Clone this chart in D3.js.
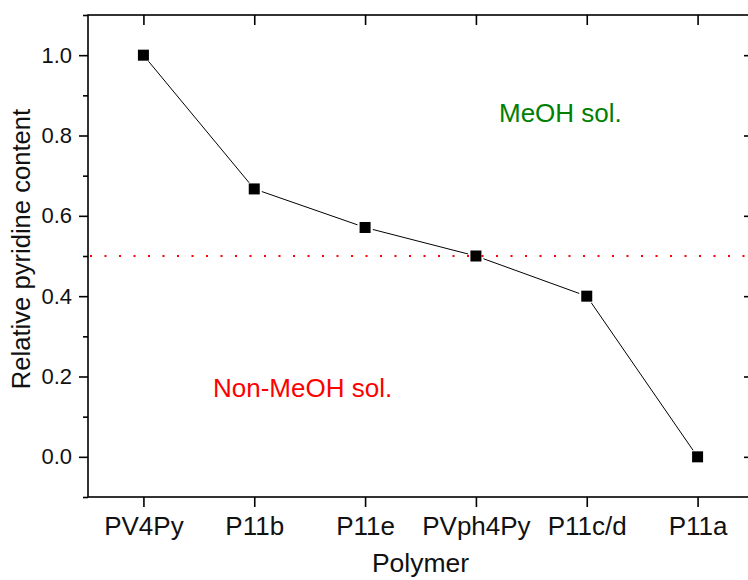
<!DOCTYPE html>
<html>
<head>
<meta charset="utf-8">
<script src="https://cdn.jsdelivr.net/npm/d3@7/dist/d3.min.js"></script>
<style>
  html, body { margin: 0; padding: 0; background: #fff; }
  svg { display: block; font-family: "Liberation Sans", Arial, sans-serif; }
</style>
</head>
<body>
<svg id="chart" width="748" height="580"></svg>
<script>
// Polymers along the x axis and their relative pyridine content
const polymers = ["PV4Py", "P11b", "P11e", "PVph4Py", "P11c/d", "P11a"];
const pyridineContent = [1.0, 0.667, 0.571, 0.5, 0.4, 0.0];
const yTickValues = [0.0, 0.2, 0.4, 0.6, 0.8, 1.0];
const yMinorValues = [-0.1, 0.1, 0.3, 0.5, 0.7, 0.9, 1.1];
const thresholdValue = [0.5];

const svg = d3.select("#chart");
const margin = { left: 88, top: 15, right: 753, bottom: 497 };

const x = d3.scalePoint().domain(polymers).range([margin.left, margin.right]).padding(0.5);
const y = d3.scaleLinear().domain([-0.1, 1.1]).range([margin.bottom, margin.top]);

const axisStroke = 1.6;

// Left axis: outward major + minor ticks
const gLeft = svg.append("g").attr("transform", `translate(${margin.left},0)`);
gLeft.call(d3.axisLeft(y).tickValues(yTickValues).tickFormat(d3.format(".1f")).tickSize(9).tickPadding(7));
gLeft.append("g").call(d3.axisLeft(y).tickValues(yMinorValues).tickFormat("").tickSize(5));

// Right axis: inward ticks
const gRight = svg.append("g").attr("transform", `translate(${margin.right},0)`);
gRight.call(d3.axisRight(y).tickValues(yTickValues).tickFormat("").tickSize(-9));
gRight.append("g").call(d3.axisRight(y).tickValues(yMinorValues).tickFormat("").tickSize(-5));

// Bottom axis: outward ticks with category labels
const gBottom = svg.append("g").attr("transform", `translate(0,${margin.bottom})`);
gBottom.call(d3.axisBottom(x).tickSize(10).tickPadding(10));

// Top axis: inward ticks
const gTop = svg.append("g").attr("transform", `translate(0,${margin.top})`);
gTop.call(d3.axisTop(x).tickFormat("").tickSize(-10));

svg.selectAll(".domain").remove();
svg.selectAll(".tick line").attr("stroke", "#000").attr("stroke-width", axisStroke);
gLeft.selectAll(".tick text").attr("font-size", 22).attr("fill", "#111").attr("font-family", "Liberation Sans, Arial, sans-serif");
gBottom.selectAll(".tick text").attr("font-size", 26).attr("fill", "#111").attr("font-family", "Liberation Sans, Arial, sans-serif");

// Frame
svg.append("rect")
  .attr("x", margin.left).attr("y", margin.top)
  .attr("width", margin.right - margin.left).attr("height", margin.bottom - margin.top)
  .attr("fill", "none").attr("stroke", "#000").attr("stroke-width", axisStroke);

// Threshold dotted line
svg.selectAll(".threshold").data(thresholdValue).join("line")
  .attr("class", "threshold")
  .attr("x1", margin.left + 2).attr("x2", margin.right)
  .attr("y1", d => y(d)).attr("y2", d => y(d))
  .attr("stroke", "#ff0000").attr("stroke-width", 2)
  .attr("stroke-dasharray", "2,12.5");

// Connecting line segments, stopped short of each marker
const pts = polymers.map((p, i) => ({ x: x(p), y: y(pyridineContent[i]) }));
const gap = 8;
const segs = d3.pairs(pts).map(([a, b]) => {
  const dx = b.x - a.x, dy = b.y - a.y, len = Math.hypot(dx, dy);
  const ux = dx / len, uy = dy / len;
  return { x1: a.x + ux * gap, y1: a.y + uy * gap, x2: b.x - ux * gap, y2: b.y - uy * gap };
});
svg.selectAll(".seg").data(segs).join("line")
  .attr("class", "seg")
  .attr("x1", d => d.x1).attr("y1", d => d.y1)
  .attr("x2", d => d.x2).attr("y2", d => d.y2)
  .attr("stroke", "#000").attr("stroke-width", 1);

// Square markers
const ms = 11;
svg.selectAll(".marker").data(polymers).join("rect")
  .attr("class", "marker")
  .attr("x", (d) => x(d) - ms / 2)
  .attr("y", (d, i) => y(pyridineContent[i]) - ms / 2)
  .attr("width", ms).attr("height", ms)
  .attr("fill", "#000");

// Region annotations
svg.append("text").attr("x", 499).attr("y", 122)
  .attr("font-size", 26).attr("fill", "#008000").text("MeOH sol.");
svg.append("text").attr("x", 213).attr("y", 397)
  .attr("font-size", 26).attr("fill", "#ff0000").text("Non-MeOH sol.");

// Axis titles
svg.append("text").attr("x", (margin.left + margin.right) / 2).attr("y", 572)
  .attr("text-anchor", "middle").attr("font-size", 26.5).attr("fill", "#111").text("Polymer");
svg.append("text")
  .attr("transform", `translate(30,249) rotate(-90)`)
  .attr("text-anchor", "middle").attr("font-size", 25.6).attr("fill", "#111")
  .text("Relative pyridine content");
</script>
</body>
</html>
